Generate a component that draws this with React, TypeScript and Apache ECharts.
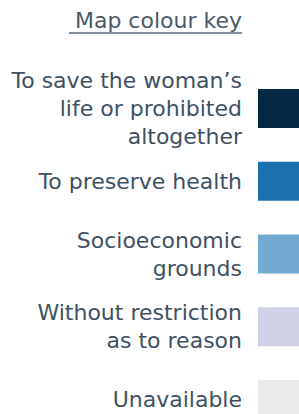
import React, { useEffect, useRef } from "react";
import * as echarts from "echarts";

const categories = [
  "To save the woman’s\nlife or prohibited\naltogether",
  "To preserve health",
  "Socioeconomic\ngrounds",
  "Without restriction\nas to reason",
  "Unavailable",
];
const swatchValues = [1, 1, 1, 1, 1];
const swatchColors = ["#042947", "#1b70b0", "#72a9d0", "#cfd2e6", "#e9ebea"];
const titleText = "Map colour key";

export default function App() {
  const ref = useRef<HTMLDivElement>(null);
  useEffect(() => {
    document.body.style.margin = "0";
    const chart = echarts.init(ref.current!, null, { renderer: "svg" });
    const font = "DejaVu Sans";
    const textColor = "#3e5163";
    chart.setOption({
      animation: false,
      graphic: [
        {
          type: "text",
          right: 57,
          top: 9,
          style: {
            text: titleText,
            font: `22px '${font}'`,
            fill: "#4a5a68",
            textAlign: "right",
          },
        },
        {
          type: "line",
          shape: { x1: 69, y1: 33, x2: 242, y2: 33 },
          style: { stroke: "#5a6a78", lineWidth: 1.5 },
        },
      ],
      grid: {
        left: 258,
        right: 0,
        top: 72,
        height: 364,
        outerBoundsMode: "none",
        containLabel: false,
      },
      xAxis: { type: "value", min: 0, max: 1, show: false },
      yAxis: {
        type: "category",
        inverse: true,
        data: categories,
        axisLine: { show: false },
        axisTick: { show: false },
        splitLine: { show: false },
        axisLabel: {
          margin: 16,
          fontFamily: font,
          fontSize: 22,
          lineHeight: 28,
          color: textColor,
          align: "right",
        },
      },
      series: [
        {
          type: "bar",
          barWidth: 39,
          data: swatchValues.map((v, i) => ({
            value: v,
            itemStyle: { color: swatchColors[i] },
          })),
        },
      ],
    });
    return () => chart.dispose();
  }, []);
  return <div ref={ref} style={{ width: 299, height: 414 }} />;
}
